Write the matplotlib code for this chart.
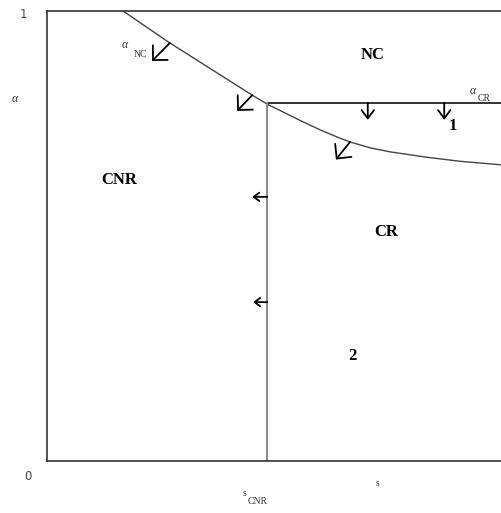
import matplotlib
matplotlib.use("Agg")
import matplotlib.pyplot as plt

W, H = 502, 513

# boundary curve alpha_NC(s)
curve_s = [0.167, 0.270, 0.451, 0.484, 0.556, 0.600, 0.640, 0.666, 0.710, 0.754, 0.835, 0.908, 1.0]
curve_a = [1.000, 0.929, 0.813, 0.793, 0.757, 0.736, 0.719, 0.709, 0.696, 0.687, 0.675, 0.666, 0.658]

s_cnr = 0.484
alpha_cr = 0.796

# arrows: (tail_s, tail_a, head_s, head_a)
diag_arrows = [(0.270, 0.929, 0.231, 0.889),
               (0.451, 0.813, 0.418, 0.778),
               (0.666, 0.709, 0.635, 0.670)]
down_arrows = [(0.705, 0.796, 0.705, 0.758),
               (0.873, 0.796, 0.873, 0.758)]
left_arrows = [(0.484, 0.587, 0.451, 0.587),
               (0.484, 0.353, 0.453, 0.353)]

fig = plt.figure(figsize=(W / 100, H / 100), dpi=100)
ax = fig.add_axes([47 / W, (H - 461) / H, (W - 47) / W, 450 / H])
ax.set_xlim(0, 1)
ax.set_ylim(0, 1)
ax.set_xticks([])
ax.set_yticks([])
for k in ("left", "bottom", "top"):
    ax.spines[k].set_color("#333333")
    ax.spines[k].set_linewidth(1.2)
ax.spines["right"].set_visible(False)

ax.plot(curve_s, curve_a, color="#444444", lw=1.0)
ax.plot([s_cnr, 1.0], [alpha_cr, alpha_cr], color="#111111", lw=1.2)
ax.plot([s_cnr, s_cnr], [0, alpha_cr], color="#888888", lw=1.4)

def arrow(t, hl, hw, ms=10, lw=1.3):
    ax.annotate("", xy=(t[2], t[3]), xytext=(t[0], t[1]),
                arrowprops=dict(arrowstyle=f"->,head_length={hl},head_width={hw}",
                                color="black", lw=lw, mutation_scale=ms,
                                shrinkA=0, shrinkB=0))

for t in diag_arrows:
    arrow(t, 0.75, 0.75)
for t in down_arrows:
    arrow(t, 0.6, 0.45)
for t in left_arrows:
    arrow(t, 0.4, 0.3)

def ftext(px, py, s, **kw):
    fig.text(px / W, 1 - py / H, s, ha="center", va="center", **kw)

serif = "Liberation Serif"
ftext(23, 14, "1", fontsize=8.5, color="#444444", family="DejaVu Sans")
ftext(28, 476, "0", fontsize=8.5, color="#444444", family="DejaVu Sans")
ftext(15, 99, "α", fontsize=8.5, color="#333333", family=serif, style="italic")
ftext(378, 484, "s", fontsize=7, color="#333333", family=serif)
ftext(245, 493, "s", fontsize=7, color="#333333", family=serif)
ftext(258, 502, "CNR", fontsize=7, color="#333333", family=serif)
ftext(125, 45, "α", fontsize=8.5, color="#333333", family=serif, style="italic")
ftext(140, 55, "NC", fontsize=7, color="#333333", family=serif)
ftext(473, 91, "α", fontsize=8.5, color="#333333", family=serif, style="italic")
ftext(484, 99, "CR", fontsize=7, color="#333333", family=serif)

ftext(373, 55, "NC", fontsize=12, fontweight="bold", family=serif)
ftext(453, 126, "1", fontsize=12, fontweight="bold", family=serif)
ftext(119, 180, "CNR", fontsize=12, fontweight="bold", family=serif)
ftext(386, 232, "CR", fontsize=12, fontweight="bold", family=serif)
ftext(352, 356, "2", fontsize=12, fontweight="bold", family=serif)

fig.savefig("out.png", dpi=100)
